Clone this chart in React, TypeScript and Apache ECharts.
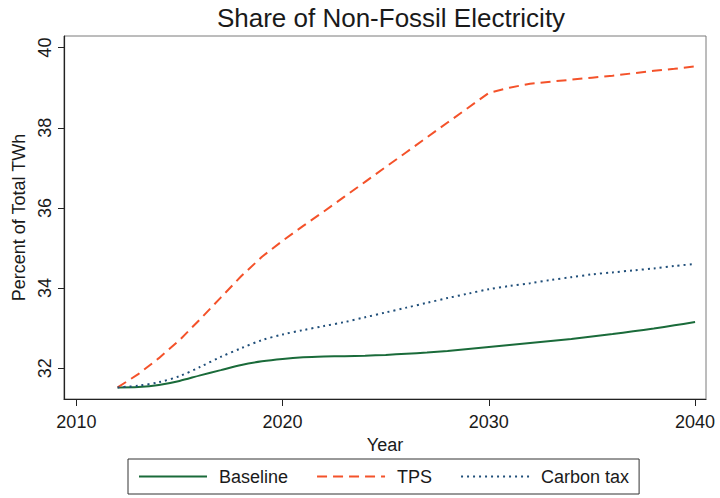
import React, { useEffect, useRef } from "react";
import * as echarts from "echarts";

const years = [2012, 2013, 2014, 2015, 2016, 2017, 2018, 2019, 2020, 2021, 2022, 2023, 2024, 2025, 2026, 2027, 2028, 2029, 2030, 2031, 2032, 2033, 2034, 2035, 2036, 2037, 2038, 2039, 2040];
const baseline = [31.52, 31.53, 31.58, 31.68, 31.82, 31.95, 32.08, 32.17, 32.23, 32.27, 32.29, 32.3, 32.31, 32.33, 32.36, 32.39, 32.43, 32.48, 32.53, 32.58, 32.63, 32.68, 32.73, 32.79, 32.85, 32.92, 32.99, 33.07, 33.15];
const tps = [31.52, 31.85, 32.25, 32.7, 33.22, 33.76, 34.3, 34.78, 35.18, 35.55, 35.91, 36.28, 36.65, 37.02, 37.39, 37.76, 38.13, 38.5, 38.87, 39.0, 39.1, 39.15, 39.2, 39.25, 39.3, 39.36, 39.42, 39.47, 39.53];
const carbonTax = [31.52, 31.56, 31.65, 31.8, 32.03, 32.28, 32.5, 32.7, 32.84, 32.95, 33.05, 33.15, 33.27, 33.39, 33.51, 33.63, 33.75, 33.86, 33.97, 34.05, 34.12, 34.2, 34.27, 34.34, 34.39, 34.44, 34.49, 34.55, 34.6];
const xTicks = [2010, 2020, 2030, 2040];
const yTicks = [32, 34, 36, 38, 40];
const seriesNames = ["Baseline", "TPS", "Carbon tax"];

const FONT = "'Liberation Sans', Arial, Helvetica, sans-serif";

export default function App() {
  const ref = useRef<HTMLDivElement>(null);
  useEffect(() => {
    if (!ref.current) return;
    const chart = echarts.init(ref.current, undefined, { renderer: "svg" });
    const pairs = (vals: number[]) => years.map((y, i) => [y, vals[i]]);
    chart.setOption({
      animation: false,
      backgroundColor: "#ffffff",
      textStyle: { fontFamily: FONT },
      title: {
        text: "Share of Non-Fossil Electricity",
        left: 386,
        textAlign: "center",
        top: 0,
        textStyle: { fontFamily: FONT, fontSize: 26, fontWeight: "normal", color: "#1a1a1a" },
      },
      grid: {
        left: 64,
        right: 14,
        top: 36,
        bottom: 99,
        show: true,
        borderColor: "#7a7a7a",
        borderWidth: 1,
      },
      legend: {
        left: 128,
        top: 459,
        padding: [7, 10, 7, 10],
        borderColor: "#333333",
        borderWidth: 1,
        itemWidth: 68,
        itemHeight: 14,
        itemGap: 28,
        data: seriesNames,
        itemStyle: { color: "rgba(0,0,0,0)", borderColor: "rgba(0,0,0,0)", borderWidth: 0, opacity: 0 },
        textStyle: { fontFamily: FONT, fontSize: 18, lineHeight: 21, color: "#1a1a1a", padding: [0, 0, 0, 7] },
      },
      xAxis: {
        type: "value",
        min: 2009.4,
        max: 2040.53,
        name: "Year",
        nameLocation: "middle",
        nameGap: 30,
        nameTextStyle: { fontFamily: FONT, fontSize: 18, color: "#1a1a1a" },
        axisLine: { show: true, lineStyle: { color: "#222", width: 1.2 } },
        axisTick: { show: true, length: 7, customValues: xTicks, lineStyle: { color: "#222" } },
        axisLabel: {
          customValues: xTicks,
          fontFamily: FONT,
          fontSize: 18,
          color: "#1a1a1a",
          margin: 14,
          formatter: (v: number) => String(Math.round(v)),
        },
        splitLine: { show: false },
      },
      yAxis: {
        type: "value",
        min: 31.23,
        max: 40.29,
        name: "Percent of Total TWh",
        nameLocation: "middle",
        nameGap: 28,
        nameRotate: 90,
        nameTextStyle: { fontFamily: FONT, fontSize: 18, color: "#1a1a1a" },
        axisLine: { show: true, lineStyle: { color: "#222", width: 1.2 } },
        axisTick: { show: true, length: 6, customValues: yTicks, lineStyle: { color: "#222" } },
        axisLabel: {
          customValues: yTicks,
          rotate: 90,
          fontFamily: FONT,
          fontSize: 18,
          color: "#1a1a1a",
          margin: 10,
          formatter: (v: number) => String(Math.round(v)),
        },
        splitLine: { show: false },
      },
      series: [
        {
          name: seriesNames[0],
          type: "line",
          data: pairs(baseline),
          showSymbol: false,
          symbol: "none",
          smooth: 0.3,
          lineStyle: { color: "#1a6b3a", width: 2, type: "solid" },
          itemStyle: { color: "#1a6b3a" },
        },
        {
          name: seriesNames[1],
          type: "line",
          data: pairs(tps),
          showSymbol: false,
          symbol: "none",
          lineStyle: { color: "#f4522a", width: 2, type: [10, 6] },
          itemStyle: { color: "#f4522a" },
        },
        {
          name: seriesNames[2],
          type: "line",
          data: pairs(carbonTax),
          showSymbol: false,
          symbol: "none",
          smooth: 0.3,
          lineStyle: { color: "#1f4e79", width: 2, type: [2, 4] },
          itemStyle: { color: "#1f4e79" },
        },
      ],
    });
    return () => chart.dispose();
  }, []);
  return (
    <div
      ref={ref}
      style={{ position: "fixed", left: 0, top: 0, width: 720, height: 498 }}
    />
  );
}
